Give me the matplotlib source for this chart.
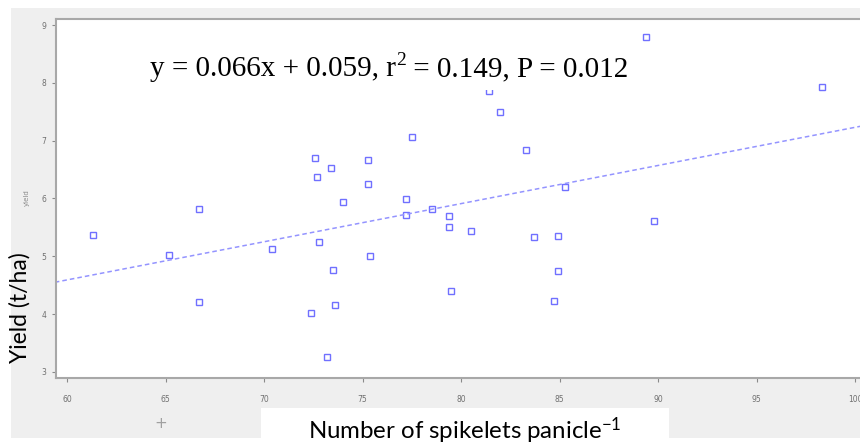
import matplotlib
matplotlib.use("Agg")
import matplotlib.pyplot as plt
from matplotlib.patches import Rectangle

# spikelets per panicle vs yield
spikelets = [61.3, 65.2, 66.7, 66.7, 70.4, 72.6, 72.7, 73.4, 72.8, 74.0,
             73.5, 73.6, 72.4, 73.2, 75.3, 75.3, 75.4, 77.5, 77.2, 77.2,
             78.5, 79.4, 79.4, 79.5, 80.5, 81.4, 82.0, 83.3, 83.7, 84.9,
             84.9, 84.7, 85.3, 89.4, 89.8, 98.3]
yield_tha = [5.37, 5.02, 5.82, 4.21, 5.12, 6.70, 6.37, 6.53, 5.24, 5.93,
             4.76, 4.16, 4.02, 3.26, 6.67, 6.25, 5.01, 7.06, 5.99, 5.71,
             5.82, 5.69, 5.51, 4.40, 5.44, 7.85, 7.49, 6.84, 5.33, 5.35,
             4.75, 4.22, 6.19, 8.79, 5.61, 7.93]

# fitted line as drawn in the figure
slope = 0.066
intercept = 0.63
fit_x = [59.0, 101.0]

xticks = [60, 65, 70, 75, 80, 85, 90, 95, 100]
yticks = [3, 4, 5, 6, 7, 8, 9]

eq_left = "y = 0.066x + 0.059, r"
eq_sup = "2"
eq_right = " = 0.149, P = 0.012"
xlabel = "Number of spikelets panicle$^{\\mathregular{-1}}$"
ylabel = "Yield (t/ha)"

plt.rcParams.update({
    "mathtext.fontset": "custom",
    "mathtext.rm": "Lato",
    "mathtext.default": "regular",
})

W, H = 860, 446
fig = plt.figure(figsize=(W / 100, H / 100), dpi=100)
fig.patch.set_facecolor("white")

# grey panel behind the plot, and the white strip behind the x label
fig.patches.append(Rectangle((11 / W, 1 - 438 / H), (W - 11) / W, (438 - 8) / H,
                             transform=fig.transFigure, facecolor="#efefef",
                             edgecolor="none", zorder=0))
fig.patches.append(Rectangle((261 / W, 0), (669 - 261) / W, (446 - 408) / H,
                             transform=fig.transFigure, facecolor="white",
                             edgecolor="none", zorder=1))

ax = fig.add_axes([56 / W, 1 - 378 / H, (W - 56) / W, (378 - 19) / H])
ax.set_zorder(3)
ax.set_facecolor("white")

ax.plot(spikelets, yield_tha, linestyle="none", marker="s", markersize=4.8,
        markerfacecolor="none", markeredgecolor="#7070ff", markeredgewidth=1.0)
fit_y = [slope * v + intercept for v in fit_x]
ax.plot(fit_x, fit_y, color="#9494ff", linestyle=(0, (3, 2)), linewidth=1.1)

ax.set_xlim(59.44, 100.25)
ax.set_ylim(2.893, 9.104)
ax.set_xticks(xticks)
ax.set_yticks(yticks)
ax.tick_params(colors="#8a8a8a", labelcolor="#707070", labelsize=5.5,
               length=3, width=0.8)
ax.tick_params(axis="x", pad=9)
ax.tick_params(axis="y", pad=4)
for side in ["left", "bottom", "top"]:
    ax.spines[side].set_color("#a8a8a8")
    ax.spines[side].set_linewidth(1.5)
ax.spines["right"].set_visible(False)

# equation: plain serif text pieces, superscript placed after the "r"
white_box = Rectangle((140 / W, 1 - 90 / H), (636 - 140) / W, (90 - 46) / H,
                      transform=fig.transFigure, facecolor="white",
                      edgecolor="none", zorder=4)
fig.patches.append(white_box)
fig.canvas.draw()
renderer = fig.canvas.get_renderer()
t1 = fig.text(0, 0, eq_left, family="Liberation Serif", fontsize=21)
t2 = fig.text(0, 0, eq_sup, family="Liberation Serif", fontsize=14)
t3 = fig.text(0, 0, eq_right, family="Liberation Serif", fontsize=21)
w1 = t1.get_window_extent(renderer).width
w2 = t2.get_window_extent(renderer).width
w3 = t3.get_window_extent(renderer).width
x0 = 389 - (w1 + w2 + w3) / 2
base = H - 76
for t in (t1, t2, t3):
    t.set_zorder(5)
t1.set_position((x0 / W, base / H))
t2.set_position(((x0 + w1) / W, (base + 11) / H))
t3.set_position(((x0 + w1 + w2) / W, base / H))
for t in (t1, t2, t3):
    t.set_va("baseline")

fig.text(465 / W, 1 - 431 / H, xlabel, family="Lato", fontsize=17.3,
         ha="center", va="center", zorder=5)
fig.text(20 / W, 1 - 308 / H, ylabel, family="Lato", fontsize=16.5,
         rotation=90, ha="center", va="center", zorder=5)

# small leftovers of the original software's labels
fig.text(27 / W, 1 - 198 / H, "yield", fontsize=5, color="#8a8a8a",
         rotation=90, ha="center", va="center")
fig.text(161 / W, 1 - 423 / H, "+", fontsize=11, color="#a0a0a0",
         ha="center", va="center")

fig.savefig("out.png", dpi=100)
